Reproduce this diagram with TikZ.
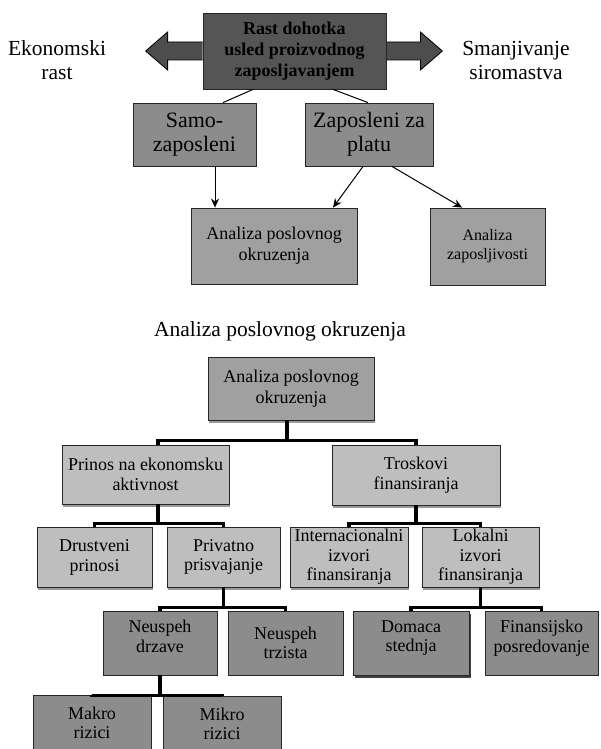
\documentclass[tikz,border=0pt]{standalone}
\usepackage{fontspec}
\setmainfont{Liberation Serif}
\usetikzlibrary{arrows.meta,shadows,calc}
\definecolor{topc}{HTML}{555555}
\definecolor{midc}{HTML}{8C8C8C}
\definecolor{anc}{HTML}{A0A0A0}
\definecolor{lightc}{HTML}{BEBEBE}
\definecolor{arrc}{HTML}{4D4D4D}
\begin{document}
\begin{tikzpicture}[x=1pt,y=-1pt,
  box/.style={draw=black!85, line width=0.8pt, align=center, inner sep=1pt},
  sz/.style 2 args={minimum width=#1pt, minimum height=#2pt},
  lowtxt/.style={font=\fontsize{18}{19.5}\selectfont},
  lift/.style={text depth=#1pt},
  shad/.style={drop shadow={shadow xshift=1pt, shadow yshift=-2.5pt, fill=black!40, opacity=1}},
  conn/.style={draw=black, line width=1pt, -{Stealth[length=9pt,width=8pt]}},
  tree/.style={draw=black, line width=3.5pt},
  blockarrow/.style={fill=arrc, draw=black, line width=0.8pt},
  topfont/.style={font=\bfseries\fontsize{18}{21}\selectfont}
]
\useasboundingbox (0,0) rectangle (600,749);

% ---------- upper diagram ----------
\node[box, sz={183}{76}, fill=topc, topfont] (top) at (294.5,51)
  {Rast dohotka\\usled proizvodnog\\zaposljavanjem};
\draw[blockarrow] (top.west) ++(0,-9) -- ++(-35,0) -- ++(0,-10) -- ++(-22,19) -- ++(22,19) -- ++(0,-10) -- ++(35,0);
\draw[blockarrow] (top.east) ++(0,-9) -- ++(34,0) -- ++(0,-10) -- ++(22,19) -- ++(-22,19) -- ++(0,-10) -- ++(-34,0);
\node[box, sz={183}{76}, fill=topc, topfont] at (top.center)
  {Rast dohotka\\usled proizvodnog\\zaposljavanjem};

\node[align=center, font=\fontsize{21.5}{24}\selectfont] (ek) at (57,60) {Ekonomski\\rast};
\node[align=center, font=\fontsize{21.5}{24}\selectfont] (sm) at (516,60) {Smanjivanje\\siromastva};

\node[box, sz={123}{63}, fill=midc, font=\fontsize{22}{24}\selectfont] (samo) at (194.5,134.5) {Samo-\\zaposleni};
\node[box, sz={128}{63}, fill=midc, font=\fontsize{22}{24}\selectfont] (zap) at (369,134.5) {Zaposleni za\\platu};

\draw[line width=1pt] ([xshift=-41.5]top.south) -- ([xshift=28.5]samo.north);
\draw[line width=1pt] ([xshift=38.5]top.south) -- ([xshift=-1]zap.north);

\node[box, sz={166}{76}, fill=anc, font=\fontsize{18}{21}\selectfont] (an1) at (274,246) {Analiza poslovnog\\okruzenja};
\node[box, sz={115}{77}, fill=anc, font=\fontsize{16}{19}\selectfont] (anz) at (487.5,246.5) {Analiza\\zaposljivosti};

\draw[conn] ([xshift=20.5]samo.south) -- ([xshift=-59]an1.north);
\draw[conn] ([xshift=-6]zap.south) -- ([xshift=59]an1.north);
\draw[conn] ([xshift=23]zap.south) -- ([xshift=-25.5]anz.north);

% ---------- lower diagram ----------
\node[font=\fontsize{21.5}{24}\selectfont] (title) at (280,331) {Analiza poslovnog okruzenja};

\node[box, sz={166}{63}, fill=anc, font=\fontsize{18}{21}\selectfont, shad] (an2) at (291,388.5) {Analiza poslovnog\\okruzenja};

\node[box, sz={167}{59}, fill=lightc, lowtxt, shad] (prin) at (145.5,474.5) {Prinos na ekonomsku\\aktivnost};
\node[box, sz={168}{60}, fill=lightc, lowtxt, shad] (tros) at (416,475) {Troskovi\\finansiranja};

\node[box, sz={115}{60}, fill=lightc, lowtxt, shad] (drus) at (94.5,557.5) {Drustveni\\prinosi};
\node[box, sz={113}{60}, fill=lightc, lowtxt, shad] (priv) at (223.5,557) {Privatno\\prisvajanje};
\node[box, sz={118}{60}, fill=lightc, lowtxt, shad] (inter) at (349,557) {Internacionalni\\izvori\\finansiranja};
\node[box, sz={117}{60}, fill=lightc, lowtxt, shad] (lok) at (480.5,557) {Lokalni\\izvori\\finansiranja};

\node[box, sz={114}{64}, fill=midc, lowtxt, lift=14] (nd) at (160,643) {Neuspeh\\drzave};
\node[box, sz={115}{64}, fill=midc, lowtxt] (nt) at (285.5,643) {Neuspeh\\trzista};
\node[box, sz={116}{64}, fill=midc, lowtxt, lift=14, drop shadow={shadow xshift=2pt, shadow yshift=-2.5pt, fill=black!75, opacity=1}] (dom) at (411,643) {Domaca\\stednja};
\node[box, sz={113}{64}, fill=midc, lowtxt, lift=14] (fin) at (541.5,643) {Finansijsko\\posredovanje};

\node[box, sz={118}{56}, fill=midc, lowtxt] (mak) at (92,723) {Makro\\rizici};
\node[box, sz={118}{56}, fill=midc, lowtxt] (mik) at (222,724) {Mikro\\rizici};

% tree connectors
\draw[tree] ([xshift=-4]an2.south) -- ++(0,20) -| ([xshift=12.5]prin.north);
\draw[tree] ([xshift=-4]an2.south) ++(0,20) -| (tros.north);
\draw[tree] ([xshift=12.5]prin.south) -- ++(0,19) -| (drus.north);
\draw[tree] ([xshift=12.5]prin.south) ++(0,19) -| (priv.north);
\draw[tree] (tros.south) -- ++(0,18) -| (inter.north);
\draw[tree] (tros.south) ++(0,18) -| (lok.north);
\draw[tree] (priv.south) -- ++(0,20) -| (nd.north);
\draw[tree] (priv.south) ++(0,20) -| (nt.north);
\draw[tree] (lok.south) -- ++(0,20) -| (dom.north);
\draw[tree] (lok.south) ++(0,20) -| (fin.north);
\draw[tree] (nd.south) -- ++(0,20) -| (mak.north);
\draw[tree] (nd.south) ++(0,20) -| (mik.north);
\end{tikzpicture}
\end{document}
